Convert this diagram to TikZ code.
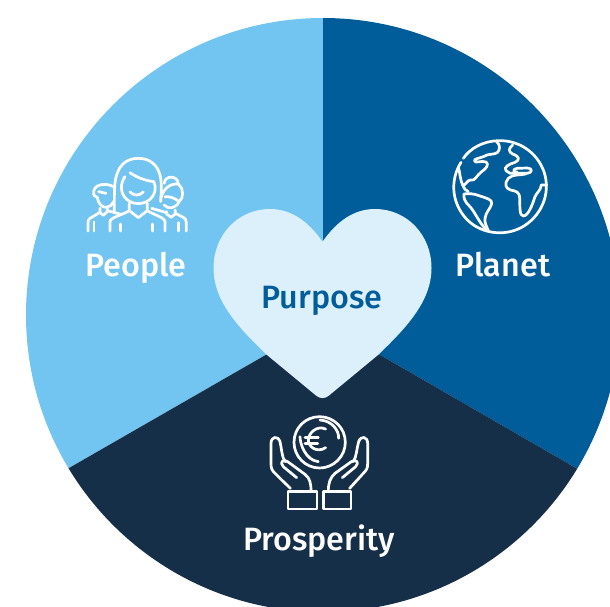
\documentclass[tikz,border=0pt]{standalone}
\usepackage{fontspec}
\setmainfont{Fira Sans Medium}
\definecolor{lightblue}{HTML}{72C5F0}
\definecolor{midblue}{HTML}{015C9A}
\definecolor{darkblue}{HTML}{162F49}
\definecolor{heartblue}{HTML}{DCF0FC}
\tikzset{
  icon/.style={draw=white,line width=2.7pt,line cap=round,line join=round},
  lab/.style={text=white,font=\fontsize{32.3}{35}\selectfont,inner sep=0pt,anchor=base},
  zoomA/.style={x=0.3333pt,y=-0.3333pt}
}
\begin{document}
\begin{tikzpicture}[x=1pt,y=-1pt]
\useasboundingbox (0,0) rectangle (610,606);
\fill[white] (0,0) rectangle (610,606);
\begin{scope}
\clip (0,0) rectangle (610,606);
\clip (323,315) circle[radius=297];
\coordinate (c) at (323,322);
\fill[lightblue] (c) -- (69,468) -- (0,510) -- (0,0) -- (323,0) -- cycle;
\fill[midblue] (c) -- (323,0) -- (640,0) -- (640,510) -- (576,468) -- cycle;
\fill[darkblue] (c) -- (69,468) -- (-10,514) -- (-10,640) -- (650,640) -- (650,511) -- (576,468) -- cycle;
\end{scope}
% heart
\fill[heartblue] (322.5,241.7)
  .. controls (308,221) and (291,209) .. (270,209)
  .. controls (238,209) and (213.5,235) .. (213.5,268)
  .. controls (213.5,302) and (240,329) .. (267,355)
  -- (316,395.5) .. controls (320,399) and (325,399) .. (329,395.5)
  -- (378,355)
  .. controls (405,329) and (431.5,302) .. (431.5,268)
  .. controls (431.5,235) and (407,209) .. (375,209)
  .. controls (354,209) and (337,221) .. (322.5,241.7) -- cycle;
\node[lab] (people) at (136,276) {People};
\node[lab] (planet) at (503,276) {Planet};
\node[lab] (prosperity) at (319,550) {Prosperity};
\node[lab,text=midblue] (purpose) at (322,308) {Purpose};
% people icon
\begin{scope}[shift={(70,140)},zoomA]
\draw[icon] (133,215) .. controls (133,150) and (133,125) .. (140,105) .. controls (150,70) and (175,55) .. (205,55) .. controls (240,55) and (262,75) .. (270,105) .. controls (275,125) and (275,150) .. (272,185);
\draw[icon] (180,98) .. controls (200,112) and (225,122) .. (252,125);
\draw[icon] (165,110) .. controls (150,130) and (150,160) .. (170,178) .. controls (190,195) and (220,195) .. (240,178) .. controls (255,165) and (260,145) .. (252,125);
\draw[icon] (180,156) .. controls (192,168) and (208,168) .. (220,156);
\draw[icon] (178,190) -- (178,212) -- (205,233) -- (232,212) -- (232,190);
\draw[icon] (120,273) -- (120,245) .. controls (120,232) and (165,222) .. (178,212);
\draw[icon] (232,212) .. controls (245,222) and (285,232) .. (285,245) -- (285,273);
\draw[icon] (152,252) -- (152,273) (248,252) -- (248,273);
% man
\draw[icon] (130,140) .. controls (110,128) and (78,132) .. (72,150) .. controls (68,165) and (74,172) .. (82,172) .. controls (84,190) and (95,202) .. (108,202) .. controls (118,202) and (126,195) .. (130,185);
\draw[icon] (86,155) -- (108,160);
\draw[icon] (90,205) -- (90,217) -- (100,226) -- (112,215) -- (112,205);
\draw[icon] (90,217) -- (60,235) .. controls (55,238) and (54,243) .. (54,250) -- (54,273);
\draw[icon] (112,212) -- (150,222);
\draw[icon] (72,245) -- (72,273);
% right woman
\draw[icon] (283,130) .. controls (283,105) and (325,105) .. (325,132);
\draw[icon] (272,175) .. controls (280,150) and (295,130) .. (325,132) .. controls (342,145) and (342,175) .. (327,185) .. controls (318,205) and (295,210) .. (282,195);
\draw[icon] (285,170) .. controls (300,170) and (312,172) .. (327,185);
\draw[icon] (290,215) -- (290,222) -- (303,232) -- (316,222) -- (316,210);
\draw[icon] (290,218) -- (245,205);
\draw[icon] (316,220) -- (340,232) .. controls (347,236) and (349,240) .. (349,248) -- (349,273);
\draw[icon] (325,248) -- (325,273);
\end{scope}
% globe
\begin{scope}[shift={(440,130)},zoomA]
\draw[icon] (63,97) .. controls (30,150) and (35,215) .. (75,262) .. controls (115,310) and (190,322) .. (245,292) .. controls (300,262) and (335,195) .. (312,125) .. controls (290,65) and (235,30) .. (175,32) .. controls (130,33) and (90,55) .. (70,85);
% North America
\draw[icon] (170,35) .. controls (182,45) and (180,60) .. (172,68) .. controls (160,75) and (145,70) .. (130,80) .. controls (118,85) and (105,85) .. (103,92) .. controls (105,102) and (125,90) .. (138,96) .. controls (148,102) and (140,115) .. (125,125) .. controls (110,135) and (105,155) .. (92,150) .. controls (82,148) and (75,170) .. (68,165) .. controls (60,150) and (60,125) .. (55,112);
\draw[icon] (68,165) .. controls (70,175) and (78,182) .. (85,185);
% South America
\draw[icon] (72,192) .. controls (85,190) and (100,190) .. (120,198) .. controls (140,205) and (158,208) .. (155,222) .. controls (150,238) and (138,245) .. (135,265) .. controls (133,278) and (140,290) .. (145,302);
\draw[icon] (72,192) .. controls (70,205) and (75,215) .. (88,228) .. controls (105,245) and (115,275) .. (138,298);
% Europe, with the Mediterranean loop
\draw[icon] (218,45) .. controls (205,55) and (205,66) .. (218,72) .. controls (240,80) and (240,90) .. (225,97) .. controls (205,103) and (190,112) .. (198,122) .. controls (204,130) and (215,132) .. (224,130) -- (262,130) .. controls (278,128) and (278,114) .. (262,114) -- (232,115) .. controls (218,116) and (218,127) .. (232,127);
% Africa
\draw[icon] (258,132) .. controls (240,136) and (218,132) .. (205,145) .. controls (192,160) and (196,176) .. (212,180) .. controls (228,184) and (238,184) .. (239,205) .. controls (240,230) and (238,258) .. (250,258) .. controls (265,258) and (278,222) .. (285,200) .. controls (290,188) and (302,182) .. (304,165) -- (320,165);
\end{scope}
% hands
\begin{scope}[shift={(255,405)},zoomA]
\draw[icon] (194,35) .. controls (236,35) and (271,69) .. (271,112) .. controls (271,154) and (236,189) .. (194,189) .. controls (151,189) and (117,154) .. (117,112) .. controls (117,69) and (151,35) .. (194,35);
\draw[icon] (195,45) .. controls (230,47) and (252,75) .. (251,100);
\draw[icon] (135,95) .. controls (135,115) and (150,165) .. (190,170);
\draw[icon] (212,72) .. controls (185,60) and (160,85) .. (160,105) .. controls (160,125) and (185,145) .. (212,128);
\draw[icon] (150,98) -- (190,98) (150,115) -- (188,115);
% left hand
\draw[icon] (106,250) -- (60,205) .. controls (50,195) and (48,190) .. (48,175) -- (48,115) .. controls (48,95) and (68,90) .. (75,110) .. controls (80,130) and (80,155) .. (90,170);
\draw[icon] (125,218) -- (85,185) .. controls (72,172) and (85,160) .. (98,170) -- (150,208) .. controls (165,220) and (168,235) .. (168,258);
\draw[icon] (99,260) rectangle (186,312);
% right hand
\draw[icon] (284,250) -- (325,205) .. controls (335,195) and (338,190) .. (338,175) -- (338,115) .. controls (338,95) and (318,90) .. (311,110) .. controls (305,130) and (305,155) .. (295,170);
\draw[icon] (262,218) -- (302,185) .. controls (315,172) and (302,160) .. (289,170) -- (240,205) .. controls (225,218) and (220,235) .. (220,258);
\draw[icon] (205,260) rectangle (288,312);
\end{scope}
\end{tikzpicture}
\end{document}
